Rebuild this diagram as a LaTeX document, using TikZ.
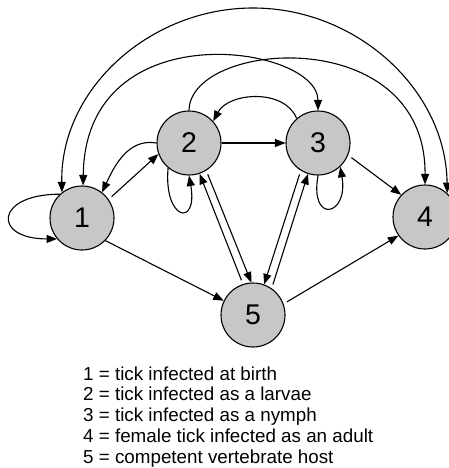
\documentclass[tikz,border=0pt]{standalone}
\usepackage{fontspec}
\setmainfont{Liberation Sans}
\usetikzlibrary{arrows.meta}
\definecolor{stategray}{RGB}{199,199,199}

\begin{document}
\begin{tikzpicture}[x=1pt, y=1pt,
    state/.style={circle, draw, line width=1.1pt, fill=stategray, minimum size=64pt, inner sep=0pt, font=\fontsize{28.5}{30}\selectfont},
    link/.style={-{Triangle[length=10.5pt,width=8pt]}, line width=1.1pt},
    twoway/.style={{Triangle[length=10.5pt,width=8pt]}-{Triangle[length=10.5pt,width=8pt]}, line width=1.1pt},
    gap/.style={shorten <=4pt}]
    % page frame
    \useasboundingbox (0,0) rectangle (449,-468);
    \clip (0,0) rectangle (449,-468);

    % States
    \node[state] (n1) at (82,-218) {1};
    \node[state] (n2) at (189,-143) {2};
    \node[state] (n3) at (318,-143) {3};
    \node[state] (n4) at (425,-217) {4};
    \node[state] (n5) at (253,-315) {5};

    % Self loops
    \draw[link] (n1.133) to[out=180, in=180, distance=65pt] (n1.220);
    \draw[link] (n2.-130) to[out=-95, in=-80, distance=53pt] (n2.-90);
    \draw[link] (n3.-90) to[out=-100, in=-80, distance=50pt] (n3.-47);

    % Between the tick stages
    \draw[link, gap] (n1.35) -- (n2.200);
    \draw[link] (n2.180) to[out=170, in=65] (n1.52);
    \draw[link] (n2) -- (n3);
    \draw[link] (n3.131) to[out=112, in=62] (n2.42);
    \draw[link, gap] (n3.-22) -- (n4.137);

    % Long arcs over the top
    \draw[twoway] (n1.88) .. controls (85,-10) and (318,-45) .. (n3.90);
    \draw[link] (n2.90) .. controls (190,-40) and (426,-22) .. (n4.90);
    \draw[twoway] (n1.128) .. controls (60,-90) and (149,-8) .. (253,-8)
        .. controls (357,-8) and (446,-90) .. (n4.47);

    % To and from the host
    \draw[link] (n1.-44) -- (n5.154);
    \draw[link, gap] (n5.20) -- (n4.215);
    \draw[link, gap] (n5.108) -- (n2.-71);
    \draw[link, gap] (n2.-58) -- (n5.93);
    \draw[link, gap] (n3.-122) -- (n5.70);
    \draw[link, gap] (n5.55) -- (n3.-108);

    % Legend
    \node[anchor=north west, inner sep=0pt, align=left, font=\fontsize{18.8}{20.8}\selectfont] (legend) at (83,-366.3)
        {1 = tick infected at birth\\
         2 = tick infected as a larvae\\
         3 = tick infected as a nymph\\
         4 = female tick infected as an adult\\
         5 = competent vertebrate host};
\end{tikzpicture}
\end{document}
